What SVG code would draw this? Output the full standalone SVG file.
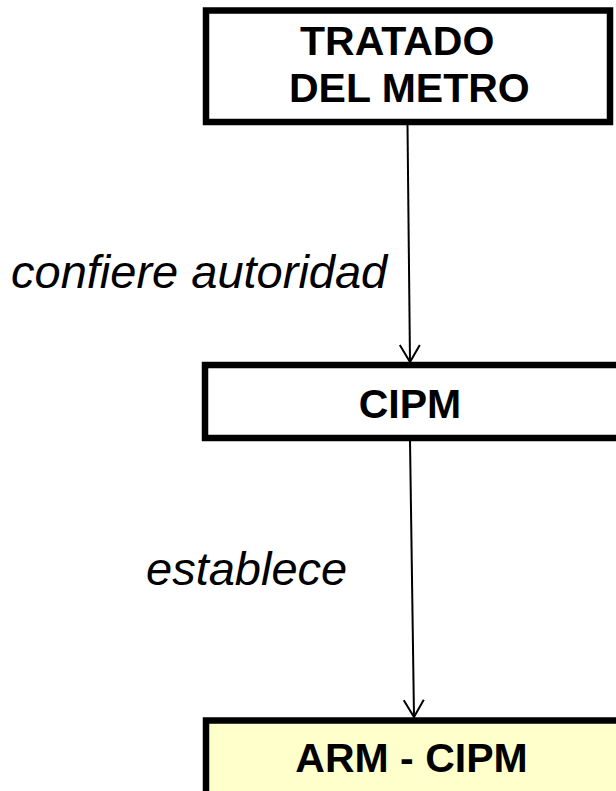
<svg xmlns="http://www.w3.org/2000/svg" width="616" height="791" viewBox="0 0 616 791">
<style>
.box{stroke:#000;stroke-width:6.5}
.t{font-family:"Liberation Sans",Arial,sans-serif;font-weight:bold;font-size:41px;fill:#000}
.lbl{font-family:"Liberation Sans",Arial,sans-serif;font-style:italic;font-size:47px;fill:#000}
.conn{stroke:#000;stroke-width:2;fill:none}
</style>
<defs>
<marker id="arr" markerUnits="userSpaceOnUse" markerWidth="30" markerHeight="30" viewBox="-20 -15 30 30" refX="0" refY="0" orient="auto" overflow="visible">
<path d="M-17,-10 L0,0 L-17,10" fill="none" stroke="#000" stroke-width="2"/>
</marker>
</defs>
<rect width="616" height="791" fill="#fff"/>
<g id="connectors">
<line class="conn" x1="407.5" y1="125" x2="410" y2="362" marker-end="url(#arr)"/>
<line class="conn" x1="410" y1="440" x2="414" y2="717" marker-end="url(#arr)"/>
<text class="lbl" x="11" y="288">confiere autoridad</text>
<text class="lbl" x="146" y="585">establece</text>
</g>
<g id="tratado">
<rect class="box" x="206" y="10.5" width="404" height="111.5" fill="#fff"/>
<text class="t" x="300" y="55">TRATADO</text>
<text class="t" x="289" y="102">DEL METRO</text>
</g>
<g id="cipm">
<rect class="box" x="205" y="365" width="420" height="73" fill="#fff"/>
<text class="t" x="410" y="418" text-anchor="middle">CIPM</text>
</g>
<g id="arm">
<rect class="box" x="206" y="720.5" width="420" height="90" fill="#FFFFCC"/>
<text class="t" x="411.5" y="772" text-anchor="middle">ARM - CIPM</text>
</g>
</svg>
